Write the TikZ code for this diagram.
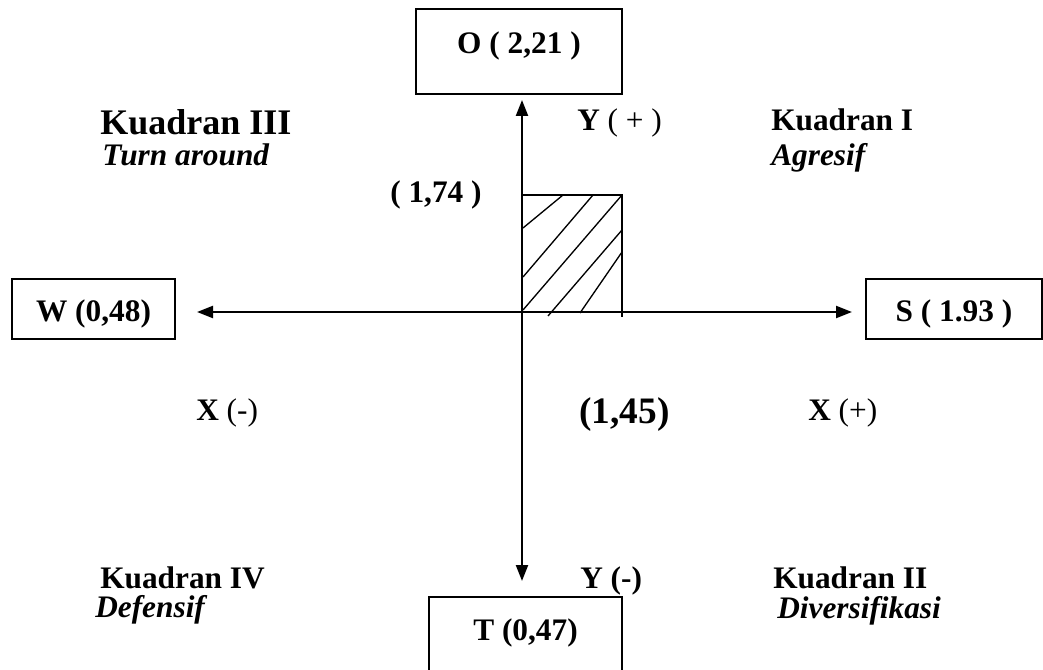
\documentclass[tikz,border=0pt]{standalone}
\usepackage{fontspec}
\setmainfont{Liberation Serif}
\usetikzlibrary{arrows.meta}
\tikzset{
  kbox/.style={draw, line width=1.1pt, inner sep=0pt, anchor=base, align=center, font=\fontsize{23.5}{28}\selectfont\bfseries},
  lbl/.style={inner sep=0pt, anchor=base west, font=\fontsize{23.5}{28}\selectfont\bfseries},
  kname/.style={lbl, font=\fontsize{23.5}{28}\selectfont\bfseries\itshape},
  axis/.style={line width=1.6pt, {Triangle[length=12pt,width=9pt]}-{Triangle[length=12pt,width=9pt]}},
  hatch/.style={line width=1pt},
}
\begin{document}
\begin{tikzpicture}[x=0.75pt,y=0.75pt,yscale=-1,xscale=1]
\clip (0,0) rectangle (1043,670);
% Boxes
\node[kbox, minimum width=154.5pt, text height=33.75pt, text depth=30pt] (oBox) at (519,54) {O ( 2,21 )};
\node[kbox, minimum width=122.25pt, text height=32.25pt, text depth=12.75pt] (wBox) at (93.5,322) {W (0,48)};
\node[kbox, minimum width=132pt, text height=32.25pt, text depth=12.75pt] (sBox) at (954,322) {S ( 1.93 )};
\node[kbox, minimum width=144.75pt, text height=32.25pt, text depth=37.5pt] (tBox) at (525.5,640) {T (0,47)};

% Axes
\coordinate (wTip) at (197,312);
\coordinate (sTip) at (852,312);
\coordinate (oTip) at (522,100);
\coordinate (tTip) at (522,581);
\draw[axis] (wTip) -- (sTip);
\draw[axis] (oTip) -- (tTip);

% Shaded area
\draw[line width=1.1pt] (522,312) -- (522,195) -- (622,195) -- (622,317);
\draw[hatch] (523,228) -- (563,195);
\draw[hatch] (523,277) -- (593,195);
\draw[hatch] (523,310) -- (622,195);
\draw[hatch] (548,316) -- (622,230);
\draw[hatch] (580,313) -- (622,252);

% Labels
\node[lbl] (yPlus) at (577,131) {Y {\mdseries ( + )}};
\node[lbl] (kuadI) at (771,131) {Kuadran I};
\node[kname] (agresif) at (771,166) {Agresif};
\node[lbl, font=\fontsize{27}{32}\selectfont\bfseries] (kuadIII) at (100,135) {Kuadran III};
\node[kname] (turn) at (102,166) {Turn around};
\node[lbl] (yVal) at (390,203) {( 1,74 )};
\node[lbl] (xMinus) at (196,421) {X {\mdseries (-)}};
\node[lbl, font=\fontsize{28}{32}\selectfont\bfseries] (xVal) at (579,423) {(1,45)};
\node[lbl] (xPlus) at (808,421) {X {\mdseries (+)}};
\node[lbl] (kuadIV) at (100,588) {Kuadran IV};
\node[kname] (defensif) at (95,617) {Defensif};
\node[lbl] (yMinus) at (580,588) {Y (-)};
\node[lbl] (kuadII) at (773,588) {Kuadran II};
\node[kname] (divers) at (777,618) {Diversifikasi};
\end{tikzpicture}
\end{document}
